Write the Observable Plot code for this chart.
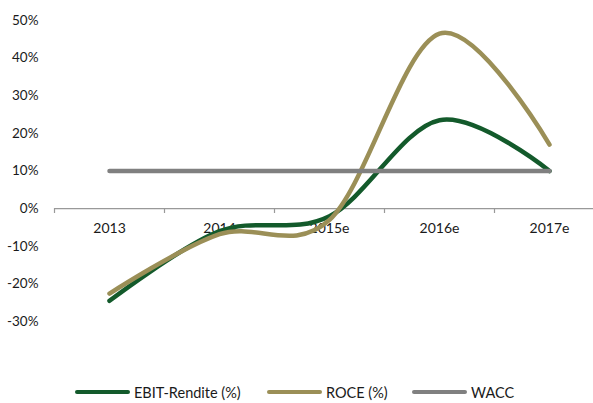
<!DOCTYPE html>
<html>
<head>
<meta charset="utf-8">
<script src="https://cdn.jsdelivr.net/npm/d3@7"></script>
<script src="https://cdn.jsdelivr.net/npm/@observablehq/plot@0.6"></script>
<style>
  body { margin: 0; background: #fff; font-family: Lato, "Open Sans", sans-serif; }
  #legend { display: flex; height: 22px; align-items: center; font-size: 14.5px; color: #1a1a1a; position: relative; }
  .item { position: absolute; display: flex; align-items: center; top: 0; height: 22px; }
  .sw { width: 55px; height: 4px; border-radius: 2px; margin-right: 4px; }
</style>
</head>
<body>
<div id="chart"></div>
<div id="legend"></div>
<script>
const years = ["2013", "2014", "2015e", "2016e", "2017e"];
const ebit = [-24.5, -6, -2, 23.5, 10];
const roce = [-22.6, -6.8, -3, 46.5, 17];
const wacc = [10, 10, 10, 10, 10];
const yTicks = [-30, -20, -10, 0, 10, 20, 30, 40, 50];

const seriesNames = ["EBIT-Rendite (%)", "ROCE (%)", "WACC"];
const colors = ["#135a2b", "#9b8f57", "#808080"];

const rows = [];
[ebit, roce, wacc].forEach((vals, s) => vals.forEach((v, i) => rows.push({series: seriesNames[s], i, v})));
const bounds = d3.range(years.length + 1).map(k => k - 0.5);

const chart = Plot.plot({
  width: 593,
  height: 381,
  marginLeft: 54,
  marginRight: 0,
  marginTop: 20,
  marginBottom: 0,
  style: {fontFamily: "Lato, 'Open Sans', sans-serif", fontSize: "13.5px", color: "#1a1a1a", background: "#fff"},
  x: {domain: [-0.5, years.length - 0.5], range: [54, 604], axis: null},
  y: {domain: [-30, 50], range: [321, 20], axis: null},
  color: {domain: seriesNames, range: colors},
  marks: [
    Plot.axisY(yTicks, {tickSize: 0, tickPadding: 16, tickFormat: d => d + "%", fontSize: 13.5, fill: "#1a1a1a", label: null}),
    Plot.ruleY([0], {x1: -0.5, x2: years.length - 0.5, stroke: "#999", strokeWidth: 1.2}),
    Plot.ruleX(bounds, {x: d => d, y1: 0, y2: -1.3, stroke: "#999", strokeWidth: 1.2}),
    Plot.text(years, {x: (d, i) => i, y: 0, dy: 20, text: d => d, fontSize: 14, fill: "#1a1a1a"}),
    Plot.line(rows, {x: "i", y: "v", z: "series", stroke: "series", strokeWidth: 4.5, curve: "cardinal", tension: 0, strokeLinecap: "round", strokeLinejoin: "round"})
  ]
});
document.getElementById("chart").appendChild(chart);

const legend = document.getElementById("legend");
const lefts = [75, 267, 412];
seriesNames.forEach((n, k) => {
  const it = document.createElement("div");
  it.className = "item";
  it.style.left = lefts[k] + "px";
  it.innerHTML = `<div class="sw" style="background:${colors[k]}"></div><span>${n}</span>`;
  legend.appendChild(it);
});
</script>
</body>
</html>
